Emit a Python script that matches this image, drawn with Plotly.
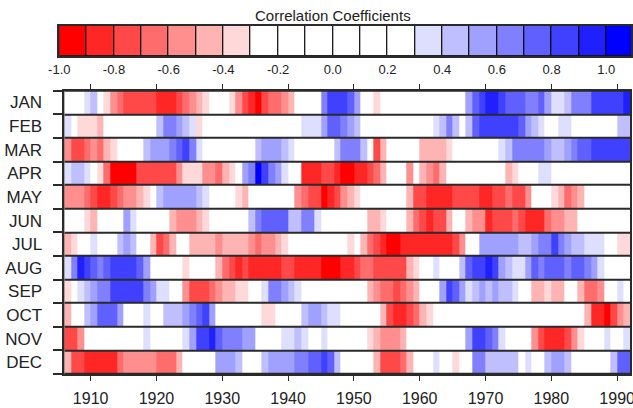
import plotly.graph_objects as go

# ---------------- data ----------------
years = list(range(1906, 1992))          # one cell per year, 1906 .. 1991
months = ["JAN", "FEB", "MAR", "APR", "MAY", "JUN",
          "JUL", "AUG", "SEP", "OCT", "NOV", "DEC"]

jan = [0, 0, 0, 0.35,
       0.45, 0, -0.35, -0.55, -0.65, -0.75, -0.75, -0.75, -0.75, -0.75,
       -0.85, -0.85, -0.85, -0.75, -0.65, -0.55, -0.45, -0.35, 0, 0,
       0, -0.35, -0.55, -0.75, -0.85, -0.95, -0.75, -0.65, -0.65, -0.55,
       -0.45, 0, 0, 0, 0, 0.65, 0.85, 0.85, 0.85, 0.75,
       0.55, 0, 0, -0.35, 0, 0, 0, 0, 0, 0,
       0, 0, 0, 0, 0, 0, 0, 0.55, 0.75, 0.85,
       0.95, 0.95, 0.85, 0.75, 0.75, 0.75, 0.65, 0.65, 0.75, 0.55,
       0.35, 0.35, 0.45, 0.65, 0.65, 0.65, 0.85, 0.85, 0.85, 0.85,
       0.85, 0.95]
feb = [0.35, 0, -0.35, -0.35,
       -0.35, -0.45, 0, 0, 0, 0, 0, 0, 0, 0,
       0.45, 0.65, 0.65, 0.55, 0.45, 0.35, -0.35, 0, 0, 0,
       0, 0, 0, 0, 0, 0, 0, 0, 0, 0,
       0, 0, 0.35, 0.35, 0.35, 0.55, 0.75, 0.75, 0.65, 0.55,
       0.45, 0, 0, 0, 0, 0, 0, 0, 0, 0,
       0, 0, 0.35, 0.45, 0.65, 0.45, 0, 0.45, 0.75, 0.85,
       0.85, 0.85, 0.85, 0.85, 0.85, 0.75, 0.55, 0.45, 0.35, 0,
       0, 0.35, 0.35, 0, 0, 0, 0, 0, 0, 0,
       0.45, 0.45]
mar = [-0.55, -0.75, -0.75, -0.65,
       -0.55, -0.65, -0.45, -0.35, 0, 0, 0, 0, 0.45, 0.55,
       0.55, 0.55, 0.65, 0.75, 0.85, 0.65, 0.35, 0, 0, 0,
       0, 0, 0, 0, 0, 0.45, 0.55, 0.55, 0.55, 0.45,
       0.35, 0, 0, 0, 0, 0, 0, 0.45, 0.65, 0.65,
       0.65, 0.45, 0, -0.75, -0.45, 0, 0, 0, 0, 0,
       -0.45, -0.45, -0.45, -0.45, -0.35, 0, 0, 0, 0, 0,
       0, 0, 0.35, 0.45, 0.65, 0.65, 0.65, 0.65, 0.65, 0.55,
       0.45, 0.45, 0.55, 0.65, 0.75, 0.75, 0.85, 0.85, 0.85, 0.85,
       0.85, 0.85]
apr = [0.35, 0.45, 0.45, 0.35,
       0, -0.35, -0.65, -0.95, -0.95, -0.95, -0.95, -0.75, -0.75, -0.75,
       -0.75, -0.75, -0.75, -0.55, -0.35, -0.35, -0.35, -0.55, -0.55, -0.65,
       -0.45, -0.35, 0, 0.55, 0.65, 1.05, 0.85, 0.65, 0.55, 0.35,
       0, 0, -0.85, -0.85, -0.85, -0.75, -0.75, -0.85, -0.95, -0.95,
       -0.85, -0.85, -0.75, -0.65, -0.45, 0, 0, 0, -0.55, 0,
       -0.45, -0.55, -0.65, -0.45, 0, 0, 0, 0, 0, 0,
       0, 0, 0, -0.45, -0.35, 0, 0, 0, 0.35, 0.35,
       0, 0, 0, 0, 0, 0, 0, 0, 0, 0,
       0, 0]
may = [-0.55, -0.55, -0.55, -0.65,
       -0.75, -0.85, -0.85, -0.75, -0.65, -0.55, -0.55, -0.45, -0.35, 0,
       0.45, 0.55, 0.55, 0.55, 0.55, 0.55, 0.45, 0.35, 0, 0,
       0, 0, -0.35, -0.45, 0, 0, 0, 0, 0, 0,
       0, -0.55, -0.65, -0.75, -0.75, -0.95, -0.85, -0.75, -0.55, -0.45,
       -0.35, 0, 0, 0, 0, 0, 0, 0, -0.45, -0.75,
       -0.75, -0.85, -0.85, -0.85, -0.85, -0.75, -0.75, -0.75, -0.75, -0.85,
       -0.85, -0.75, -0.75, -0.65, -0.75, -0.75, -0.55, 0, 0, 0,
       -0.35, -0.45, -0.65, -0.55, -0.45, 0, 0, 0, 0, 0,
       0, 0]
jun = [0, 0, 0, -0.35,
       -0.45, 0, 0, 0, 0, 0.55, 0.35, 0, 0, 0,
       0, 0, -0.45, -0.55, -0.55, -0.55, -0.45, -0.35, 0, 0,
       0, 0, 0, 0, 0.45, 0.65, 0.75, 0.75, 0.75, 0.75,
       0.45, 0.45, 0.65, 0.65, 0.35, 0, 0, 0, 0, 0,
       0, 0, -0.45, -0.45, -0.35, 0, 0, 0, -0.45, -0.65,
       -0.75, -0.85, -0.75, -0.75, -0.45, 0, 0, -0.45, -0.55, -0.55,
       -0.85, -0.75, -0.75, -0.75, -0.65, -0.75, -0.85, -0.85, -0.85, -0.65,
       -0.55, -0.55, -0.45, -0.45, 0, 0, 0, 0, 0, 0,
       0, 0]
jul = [-0.45, -0.35, 0, 0,
       0.35, 0, 0, 0, 0.45, 0.55, 0.45, 0, 0, -0.45,
       -0.75, -0.65, -0.45, 0, 0, -0.45, -0.45, -0.45, -0.45, -0.55,
       -0.45, -0.45, -0.45, -0.45, -0.55, -0.65, -0.55, -0.55, -0.45, -0.35,
       0, 0, 0, 0, 0, 0, 0, 0, 0, -0.35,
       0, -0.45, -0.65, -0.75, -0.85, -0.95, -0.95, -0.85, -0.85, -0.85,
       -0.85, -0.85, -0.85, -0.85, -0.85, -0.75, -0.55, 0, 0, 0.55,
       0.55, 0.55, 0.55, 0.55, 0.55, 0.45, 0.45, 0.55, 0.65, 0.65,
       0.85, 0.65, 0.55, 0.45, 0.45, 0.35, 0.35, 0.35, 0, 0,
       -0.35, -0.35]
aug = [0.35, 0.65, 0.95, 0.85,
       0.75, 0.65, 0.75, 0.85, 0.85, 0.85, 0.85, 0.75, 0.55, 0,
       0, 0, 0, 0, -0.35, 0, 0, 0, 0, -0.45,
       -0.65, -0.75, -0.85, -0.75, -0.85, -0.85, -0.85, -0.85, -0.85, -0.75,
       -0.75, -0.85, -0.85, -0.85, -0.85, -0.95, -0.95, -0.95, -0.85, -0.85,
       -0.75, -0.65, -0.65, -0.75, -0.75, -0.75, -0.75, -0.75, -0.45, -0.35,
       0, 0, 0.35, 0, 0, 0, 0.45, 0.75, 0.85, 0.85,
       0.95, 0.85, 0.55, 0.45, 0.35, 0.35, 0.55, 0.75, 0.65, 0.75,
       0.75, 0.75, 0.65, 0.75, 0.75, 0.65, 0.55, 0.35, 0, 0,
       0, 0]
sep = [-0.35, 0, 0.35, 0.45,
       0.55, 0.65, 0.65, 0.85, 0.85, 0.85, 0.85, 0.85, 0.65, 0.55,
       0.35, 0.35, 0, 0, -0.55, -0.75, -0.75, -0.75, -0.65, -0.55,
       -0.45, -0.45, -0.35, -0.35, 0, 0, 0.35, 0.65, 0.65, 0.55,
       0.45, 0.35, 0, 0, 0, 0, 0, 0, 0, 0,
       0, 0, -0.45, -0.55, -0.65, -0.65, -0.75, -0.65, -0.55, -0.45,
       0, 0, 0, 0.55, 0.85, 0.75, 0.55, 0.35, 0.45, 0.55,
       0.45, 0.55, 0.45, 0.45, 0.35, 0, 0, -0.45, -0.45, -0.35,
       -0.45, -0.45, 0, 0, -0.45, -0.65, -0.65, -0.55, 0, 0,
       0.35, 0]
oct_ = [-0.45, 0, 0, 0.45,
        0.55, 0.75, 0.75, 0.75, 0.55, 0, 0, 0, 0.35, 0,
        0, 0.45, 0.45, 0.45, 0.55, 0.65, 0.75, 0.85, 0.55, 0,
        0, 0, 0, 0, 0, 0, -0.35, -0.35, 0, 0,
        0, 0, 0.45, 0.55, 0.55, 0.45, 0.35, 0.35, 0, 0,
        0, 0, 0, 0, -0.45, -0.75, -0.85, -0.85, -0.75, -0.65,
        -0.45, -0.35, 0, 0, 0, 0, 0, 0, 0, 0,
        0, 0, 0, 0, 0, 0, 0, 0, 0, 0,
        0, 0, 0, 0, 0, -0.45, -0.85, -0.85, -0.95, -0.75,
        -0.55, -0.45]
nov = [-0.75, -0.75, -0.55, 0,
       0, 0, 0, 0, 0, 0, 0, 0, 0.35, 0,
       0, 0, 0, 0, 0.35, 0.55, 0.85, 0.85, 0.95, 0.75,
       0.65, 0.65, 0.65, 0.55, 0.55, 0, 0, 0, 0, 0.35,
       0.35, 0.45, 0.35, 0, 0, 0.35, 0, 0, 0, 0,
       0, 0, -0.35, -0.45, -0.55, -0.55, -0.55, -0.45, 0, 0,
       0, 0, 0, 0, 0, 0, 0, 0.55, 0.85, 0.85,
       0.75, 0.65, 0.35, 0, 0, 0, 0, -0.55, -0.75, -0.85,
       -0.85, -0.85, -0.75, -0.55, -0.35, 0, 0, 0, 0.35, 0,
       0, 0.35]
dec = [-0.45, -0.75, -0.75, -0.85,
       -0.85, -0.85, -0.85, -0.85, -0.65, -0.55, -0.55, -0.55, -0.55, -0.55,
       -0.65, -0.65, -0.65, -0.45, 0, 0, 0, 0, 0, 0.55,
       0.55, 0.55, 0.45, 0, 0, 0, 0.45, 0.55, 0.55, 0.55,
       0.55, 0.65, 0.65, 0.75, 0.75, 0.85, 0.75, 0.45, 0, 0,
       0, 0, 0, -0.45, -0.75, -0.75, -0.75, -0.65, -0.45, 0,
       0, 0, 0.35, 0, 0, -0.35, 0, 0, 0.65, 0.65,
       0.45, 0.45, 0.45, 0.45, 0.45, 0, 0.35, 0, 0, 0.45,
       0.55, 0.55, 0.45, 0, 0, 0, 0, 0, 0, 0.45,
       0.75, 0.75]

rows = [jan, feb, mar, apr, may, jun, jul, aug, sep, oct_, nov, dec]

cbar_ticks = [-1.0, -0.8, -0.6, -0.4, -0.2, 0.0, 0.2, 0.4, 0.6, 0.8, 1.0]
cbar_ticktext = ["-1.0", "-0.8", "-0.6", "-0.4", "-0.2", "0.0",
                 "0.2", "0.4", "0.6", "0.8", "1.0"]
year_ticks = [1910, 1920, 1930, 1940, 1950, 1960, 1970, 1980, 1990]

# ---------------- styling ----------------
bin_colors = ["#FF0000", "#FF2626", "#FF4848", "#FF6C6C", "#FF8F8F", "#FFB4B4", "#FFD9D9",
              "#FFFFFF", "#FFFFFF", "#FFFFFF", "#FFFFFF", "#FFFFFF", "#FFFFFF",
              "#DEDEFF", "#BFBFFF", "#A0A0FF", "#8080FF", "#6060FF", "#4040FF", "#2020FF", "#0000FF"]
nb = len(bin_colors)
ZMIN, ZMAX = -1.0, -1.0 + 0.1 * nb
colorscale = []
for i, c in enumerate(bin_colors):
    colorscale.append([i / nb, c])
    colorscale.append([(i + 1) / nb, c])
bin_centers = [round(ZMIN + 0.1 * i + 0.05, 3) for i in range(nb)]

W, H = 633, 408
FONT = "Liberation Sans, Arial, sans-serif"
LINE = "#2a2a2a"

fig = go.Figure()

fig.add_trace(go.Heatmap(
    z=rows, x=[y + 0.5 for y in years], y=list(range(len(months))),
    colorscale=colorscale, zmin=ZMIN, zmax=ZMAX, showscale=False,
    ygap=2, hoverinfo="skip", xaxis="x", yaxis="y"))

fig.add_trace(go.Bar(
    x=bin_centers, y=[1] * nb, width=0.1,
    marker=dict(color=bin_colors, line=dict(color="#000000", width=1)),
    xaxis="x2", yaxis="y2", showlegend=False, hoverinfo="skip"))

px_x = lambda p: p / W          # page pixel -> paper fraction
px_y = lambda p: (H - p) / H

fig.update_layout(
    width=W, height=H,
    margin=dict(l=0, r=0, t=0, b=0, autoexpand=False),
    paper_bgcolor="white", plot_bgcolor=LINE,
    bargap=0, showlegend=False,
    font=dict(family=FONT, color="#222222"),
    xaxis=dict(domain=[px_x(64.3), px_x(630.3)], range=[1906, 1992], anchor="y",
               tickvals=year_ticks, ticks="outside", ticklen=5, tickcolor=LINE,
               showline=True, linecolor=LINE, linewidth=1.5, mirror="ticks",
               showgrid=False, zeroline=False, tickfont=dict(size=16),
               ticklabelstandoff=4, ticklabeloverflow="allow", automargin=False),
    yaxis=dict(domain=[px_y(374), px_y(90.7)], range=[11.5, -0.5], anchor="x",
               tickvals=list(range(12)), ticktext=months, ticks="",
               showline=True, linecolor=LINE, linewidth=1.5, mirror=True,
               showgrid=False, zeroline=False, tickfont=dict(size=17),
               ticklabelstandoff=17, automargin=False,
               minor=dict(tickvals=[i - 0.5 for i in range(13)], ticks="outside",
                          ticklen=10, tickcolor=LINE, tickwidth=1.5, showgrid=False)),
    xaxis2=dict(domain=[px_x(59.3), px_x(631.3)], range=[-1.0, 1.0914], anchor="y2",
                tickvals=cbar_ticks, ticktext=cbar_ticktext, ticks="",
                showline=True, linecolor=LINE, linewidth=1.5, mirror=True,
                showgrid=False, zeroline=False, tickfont=dict(size=13),
                ticklabelstandoff=1, ticklabeloverflow="allow", automargin=False),
    yaxis2=dict(domain=[px_y(55.7), px_y(26)], range=[0, 1], anchor="x2",
                showticklabels=False, showline=True, linecolor=LINE, linewidth=1.5,
                mirror=True, showgrid=False, zeroline=False, ticks="", automargin=False),
    annotations=[dict(text="Correlation Coefficients", x=0.0, xref="x2",
                      y=px_y(26), yref="paper", yanchor="bottom", xanchor="center",
                      showarrow=False, font=dict(size=15, color="#222222"), yshift=0)],
)

fig.write_html("out.html", config={"displayModeBar": False},
               post_script="document.body.style.margin='0';"
                           "document.body.style.overflow='hidden';")
